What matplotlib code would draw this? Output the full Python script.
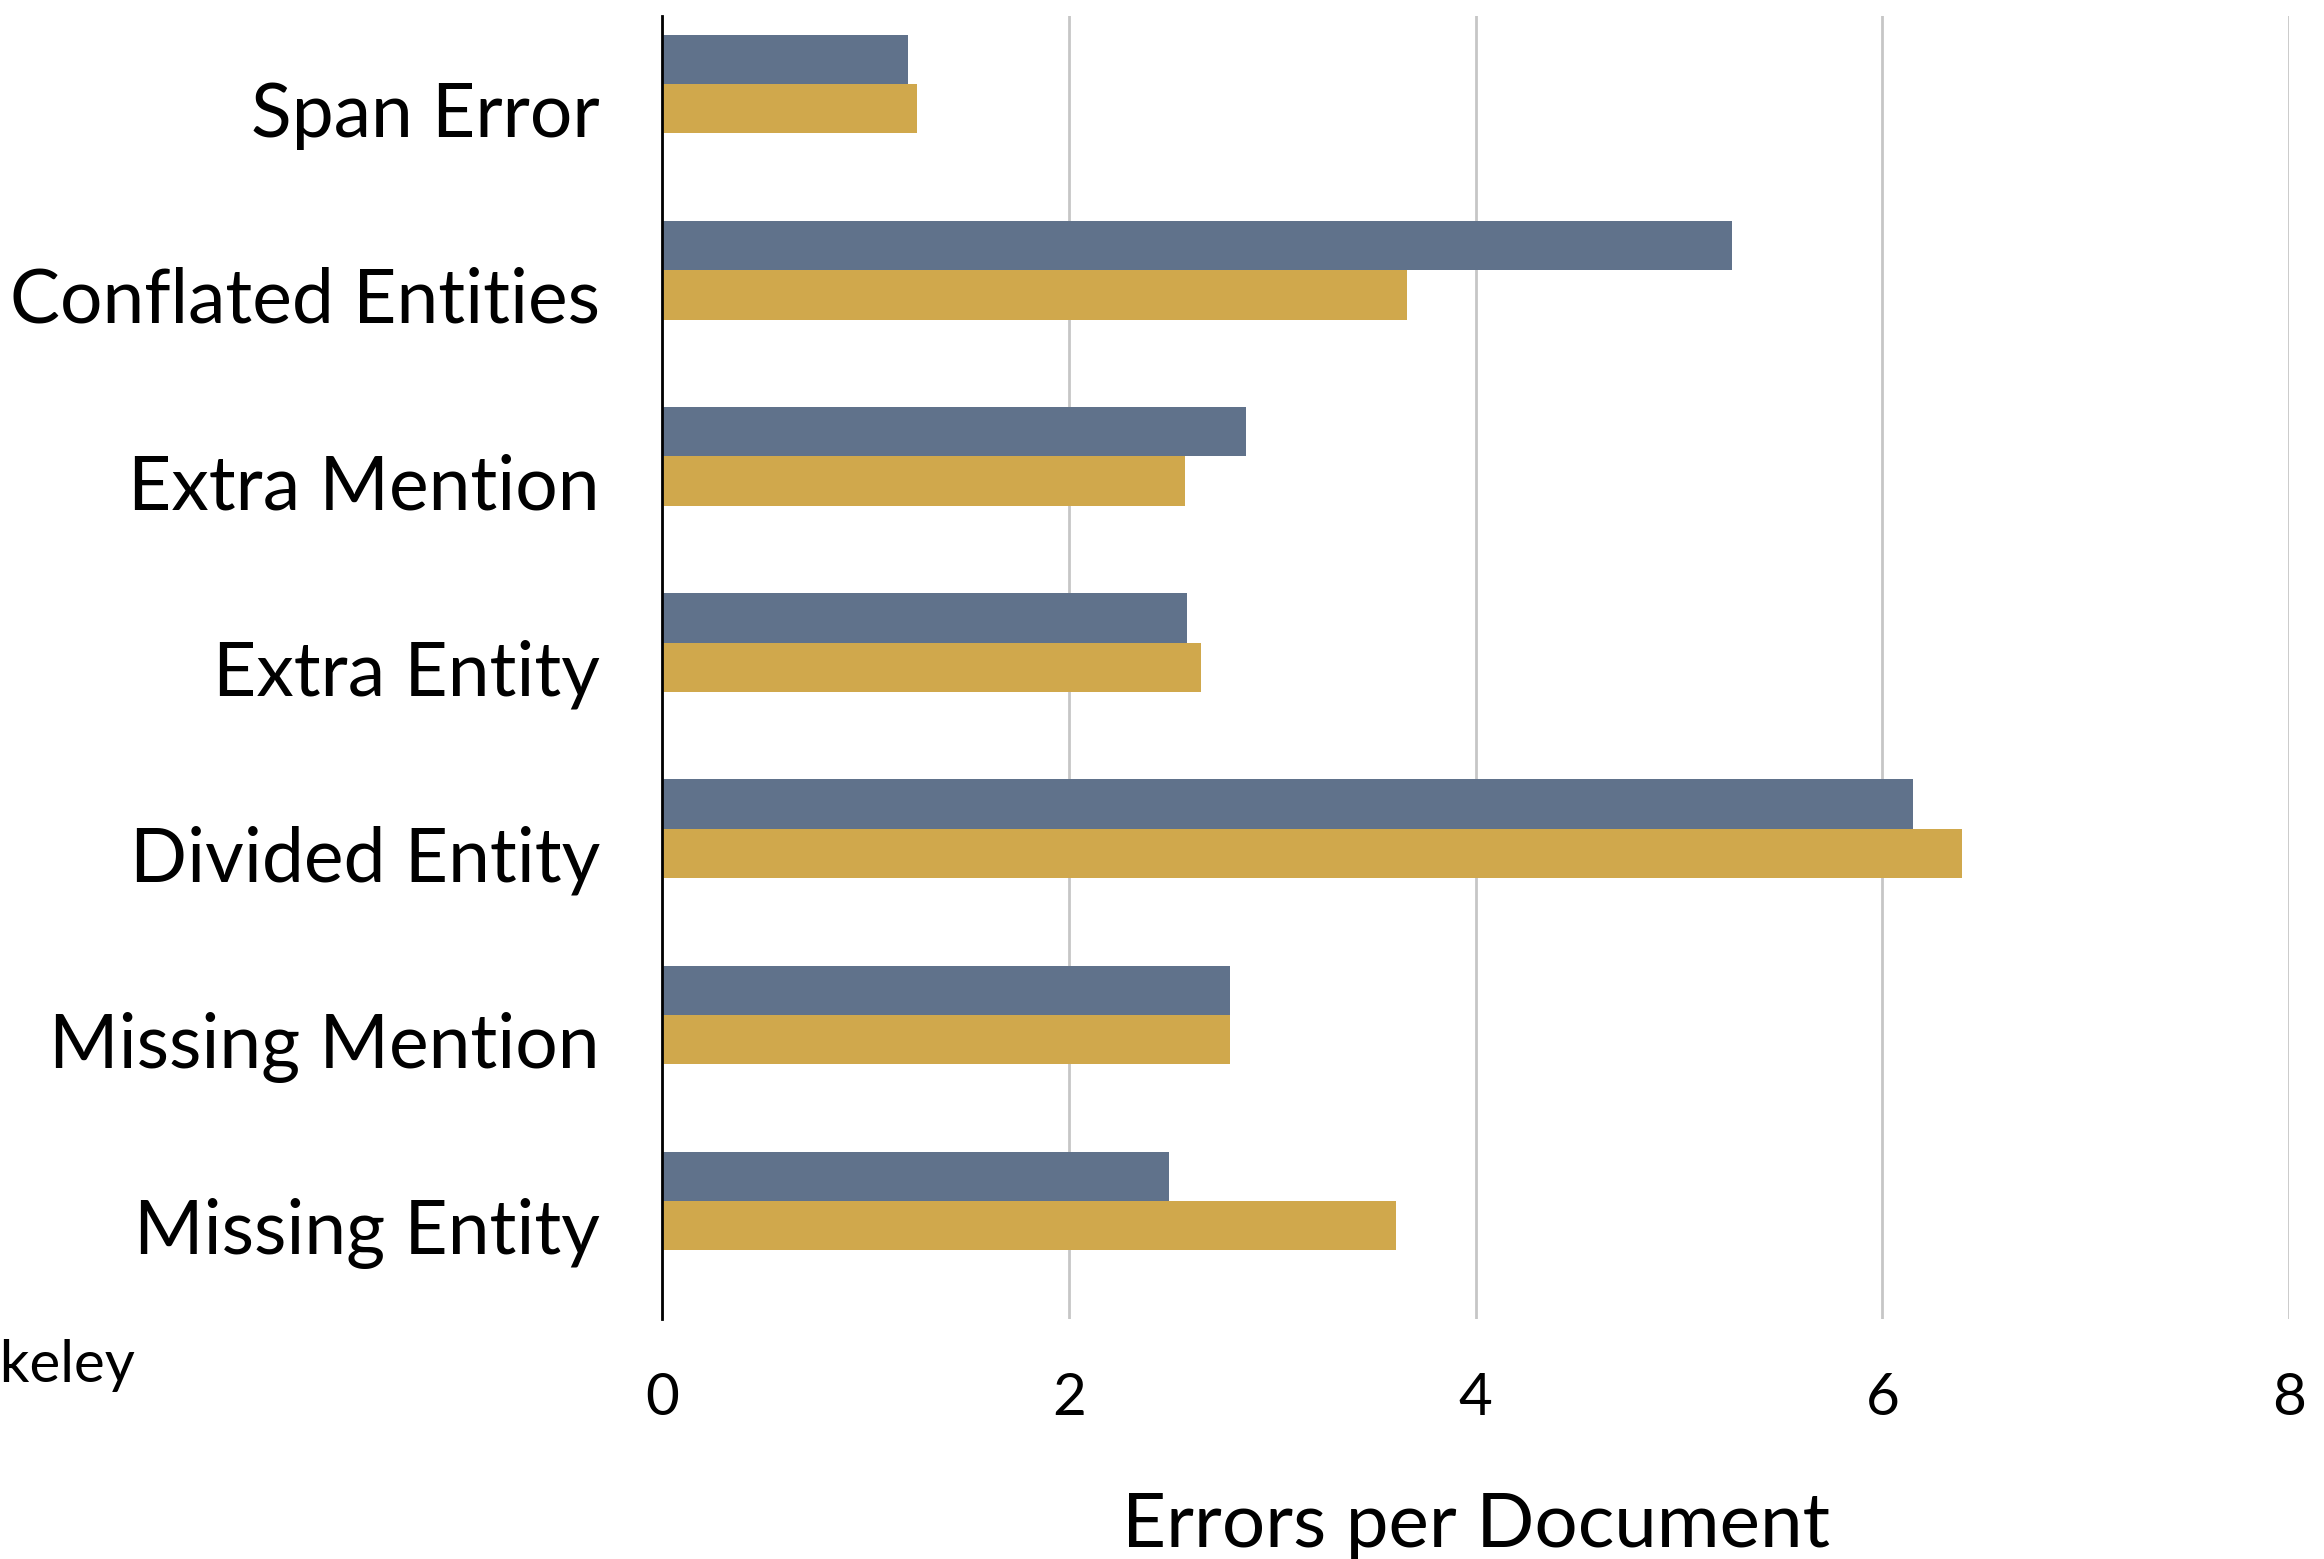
import numpy as np
import matplotlib
matplotlib.use("Agg")
import matplotlib.pyplot as plt

categories = ["Span Error", "Conflated Entities", "Extra Mention", "Extra Entity",
              "Divided Entity", "Missing Mention", "Missing Entity"]
series_a = [1.21, 5.26, 2.87, 2.58, 6.15, 2.79, 2.49]   # slate bars (top of each pair)
series_b = [1.25, 3.66, 2.57, 2.65, 6.39, 2.79, 3.61]   # gold bars
x_ticks = [0, 2, 4, 6, 8]

BLUE = "#60728B"
GOLD = "#D0A84C"

plt.rcParams["font.family"] = ["Lato", "DejaVu Sans"]


def main():
    fig = plt.figure(figsize=(23.24, 15.59), dpi=100)
    ax = fig.add_axes([0.285, 0.154, 0.7, 0.836])

    y = np.arange(len(categories))
    h = 0.265
    # gold bar sits on the category tick, slate bar just above it
    ax.barh(y - h, series_a, height=h, color=BLUE, zorder=3)
    ax.barh(y, series_b, height=h, color=GOLD, zorder=3)

    ax.set_ylim(len(categories) - 0.5, -0.5)
    ax.set_xlim(0, 8)
    ax.set_xticks(x_ticks)
    ax.set_xticklabels([str(t) for t in x_ticks], fontsize=42)
    ax.set_yticks(y)
    ax.set_yticklabels(categories, fontsize=54)
    ax.tick_params(axis="both", length=0)
    ax.tick_params(axis="y", pad=45)
    ax.tick_params(axis="x", pad=38)

    ax.grid(axis="x", color="#C6C6C6", linewidth=2, zorder=0)
    for side in ["top", "right", "bottom"]:
        ax.spines[side].set_visible(False)
    ax.spines["left"].set_color("black")
    ax.spines["left"].set_linewidth(2)
    ax.spines["left"].set_zorder(4)

    ax.set_xlabel("Errors per Document", fontsize=55, labelpad=48)

    # legend entry cut off at the left edge in the original
    fig.text(135 / 2324, 1 - 1365 / 1559, "Berkeley", fontsize=42,
             ha="right", va="center")

    fig.savefig("out.png", dpi=100)


if __name__ == "__main__":
    main()
